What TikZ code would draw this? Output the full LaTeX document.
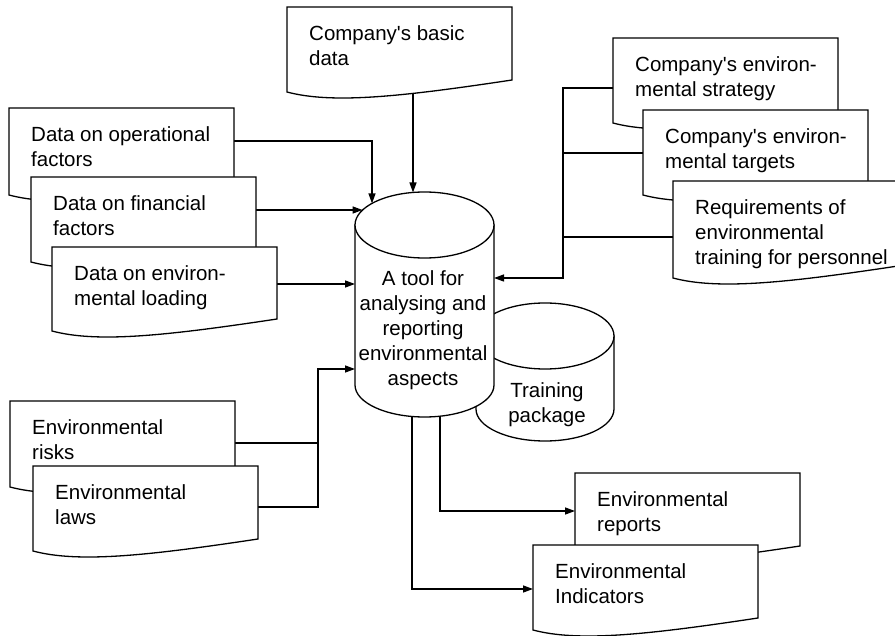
\documentclass[tikz,border=0pt]{standalone}
\usepackage{fontspec}
\setmainfont{Liberation Sans}
\usetikzlibrary{arrows.meta}
\tikzset{
  shapeline/.style={draw=black, line width=1.3pt, fill=white},
  conn/.style={draw=black, line width=1.3pt},
  arr/.style={conn, -{Triangle[length=10pt,width=7pt]}},
  doctext/.style={anchor=north west, inner sep=0pt, align=left, font=\fontsize{20.5pt}{25pt}\selectfont},
  cyltext/.style={anchor=north, inner sep=0pt, align=center, font=\fontsize{20.5pt}{25pt}\selectfont}
}
\newcommand\docbox[3]{% left, top, left-bottom
  \path[shapeline] (#1,#2) -- ({#1+225},#2) -- ({#1+225},{#3-12})
    .. controls ({#1+112.5},{#3+5}) and ({#1+45},{#3+12}) .. (#1,#3) -- cycle;
}
\newcommand\qs{\textquotesingle}
\begin{document}
\begin{tikzpicture}[x=1pt,y=-1pt]
\useasboundingbox (0,0) rectangle (895,636);
\clip (0,0) rectangle (895,636);

% training package cylinder
\path[shapeline] (476,336) -- (476,409) arc[start angle=180,end angle=360,x radius=69pt,y radius=32pt] -- (614,336) -- cycle;
\draw[line width=1.3pt,fill=white] (545,336) ellipse [x radius=69pt, y radius=33pt];
\node[cyltext] (train) at (547,382) {Training\\package};

% main cylinder
\path[shapeline] (355,225) -- (355,385) arc[start angle=180,end angle=360,x radius=69.5pt,y radius=32pt] -- (494,225) -- cycle;
\draw[line width=1.3pt,fill=white] (424.5,225) ellipse [x radius=69.5pt, y radius=33pt];
\node[cyltext] (tool) at (423,270) {A tool for\\analysing and\\reporting\\environmental\\aspects};

% connector coordinates
\coordinate (basic-s) at (413,93.4);
\coordinate (main-n) at (413,192.5);
\coordinate (op-e) at (234,141);
\coordinate (main-op) at (372,203.4);
\coordinate (fin-e) at (255,210);
\coordinate (main-fin) at (362.6,210);
\coordinate (load-e) at (277,284);
\coordinate (main-load) at (355,284);
\coordinate (risks-e) at (235,443);
\coordinate (jl-r) at (318,443);
\coordinate (laws-e) at (257,507);
\coordinate (jl) at (318,369);
\coordinate (main-laws) at (355,369);
\coordinate (r1-w) at (613,88);
\coordinate (jr) at (563,278);
\coordinate (main-r) at (494,278);
\coordinate (r2-w) at (643,153);
\coordinate (jr2) at (563,153);
\coordinate (r3-w) at (673,237);
\coordinate (jr3) at (563,237);
\coordinate (main-b1) at (440,416.2);
\coordinate (rep-w) at (575,511);
\coordinate (main-b2) at (412,416.5);
\coordinate (ind-w) at (533,589);

% connectors
\draw[arr] (basic-s) -- (main-n);
\draw[arr] (op-e) -| (main-op);
\draw[arr] (fin-e) -- (main-fin);
\draw[arr] (load-e) -- (main-load);
\draw[conn] (risks-e) -- (jl-r);
\draw[arr] (laws-e) -| (jl) -- (main-laws);
\draw[arr] (r1-w) -| (jr) -- (main-r);
\draw[conn] (r2-w) -- (jr2);
\draw[conn] (r3-w) -- (jr3);
\draw[arr] (main-b1) |- (rep-w);
\draw[arr] (main-b2) |- (ind-w);

% documents
\docbox{287}{7}{92}
\node[doctext] (basic) at (309,25) {Company\qs s basic\\data};

\docbox{9}{108}{195}
\node[doctext] (op) at (31,126) {Data on operational\\factors};
\docbox{31}{177}{262}
\node[doctext] (fin) at (53,195) {Data on financial\\factors};
\docbox{52}{247}{331}
\node[doctext] (load) at (74,265) {Data on environ-\\mental loading};

\docbox{10}{401}{487}
\node[doctext] (risks) at (32,419) {Environmental\\risks};
\docbox{33}{466}{551}
\node[doctext] (laws) at (55,484) {Environmental\\laws};

\docbox{613}{38}{123}
\node[doctext] (r1) at (635,56) {Company\qs s environ-\\mental strategy};
\docbox{643}{110}{195}
\node[doctext] (r2) at (665,128) {Company\qs s environ-\\mental targets};
\docbox{673}{181}{278}
\node[doctext] (r3) at (695,199) {Requirements of\\environmental\\training for personnel};

\docbox{575}{473}{558}
\node[doctext] (rep) at (597,491) {Environmental\\reports};
\docbox{533}{545}{630}
\node[doctext] (ind) at (555,563) {Environmental\\Indicators};
\end{tikzpicture}
\end{document}
